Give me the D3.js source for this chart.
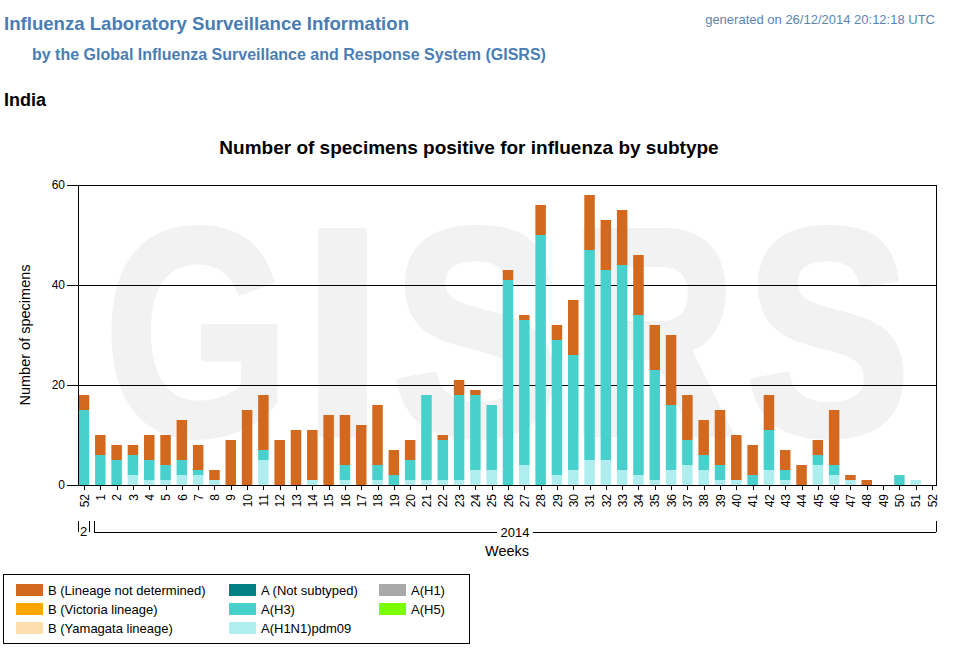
<!DOCTYPE html>
<html>
<head>
<meta charset="utf-8">
<script src="https://cdn.jsdelivr.net/npm/d3@7"></script>
<style>
  html, body { margin: 0; padding: 0; background: #fff; }
  svg { display: block; font-family: "Liberation Sans", Arial, sans-serif; }
</style>
</head>
<body>
<svg id="chart" width="956" height="654"></svg>
<script>
// ---- data ----
const weekLabels = ["52","1","2","3","4","5","6","7","8","9","10","11","12","13","14","15","16","17","18","19","20","21","22","23","24","25","26","27","28","29","30","31","32","33","34","35","36","37","38","39","40","41","42","43","44","45","46","47","48","49","50","51","52"];
const weekYears = [2013].concat(d3.range(52).map(() => 2014));

const seriesNames = ["A(H1)","A(H1N1)pdm09","A(H3)","A(H5)","A (Not subtyped)","B (Yamagata lineage)","B (Victoria lineage)","B (Lineage not determined)"];
const seriesColors = ["#a9a9a9","#afeeee","#48d1cc","#7cfc00","#008080","#ffdead","#ffa500","#d2691e"];

const valsH1 = [0,0,0,0,0,0,0,0,0,0,0,0,0,0,0,0,0,0,0,0,0,0,0,0,0,0,0,0,0,0,0,0,0,0,0,0,0,0,0,0,0,0,0,0,0,0,0,0,0,0,0,0,0];
const valsH1N1pdm09 = [0,0,0,2,1,1,2,2,1,0,0,5,0,0,1,0,1,0,1,0,1,1,1,1,3,3,0,4,0,2,3,5,5,3,2,1,3,4,3,1,1,0,3,1,0,4,2,1,0,0,0,1,0];
const valsH3 = [15,6,5,4,4,3,3,1,0,0,0,2,0,0,0,0,3,0,3,2,4,17,8,17,15,13,41,29,50,27,23,42,38,41,32,22,13,5,3,3,0,2,8,2,0,2,2,0,0,0,2,0,0];
const valsH5 = [0,0,0,0,0,0,0,0,0,0,0,0,0,0,0,0,0,0,0,0,0,0,0,0,0,0,0,0,0,0,0,0,0,0,0,0,0,0,0,0,0,0,0,0,0,0,0,0,0,0,0,0,0];
const valsANotSubtyped = [0,0,0,0,0,0,0,0,0,0,0,0,0,0,0,0,0,0,0,0,0,0,0,0,0,0,0,0,0,0,0,0,0,0,0,0,0,0,0,0,0,0,0,0,0,0,0,0,0,0,0,0,0];
const valsBYamagata = [0,0,0,0,0,0,0,0,0,0,0,0,0,0,0,0,0,0,0,0,0,0,0,0,0,0,0,0,0,0,0,0,0,0,0,0,0,0,0,0,0,0,0,0,0,0,0,0,0,0,0,0,0];
const valsBVictoria = [0,0,0,0,0,0,0,0,0,0,0,0,0,0,0,0,0,0,0,0,0,0,0,0,0,0,0,0,0,0,0,0,0,0,0,0,0,0,0,0,0,0,0,0,0,0,0,0,0,0,0,0,0];
const valsBNotDetermined = [3,4,3,2,5,6,8,5,2,9,15,11,9,11,10,14,10,12,12,5,4,0,1,3,1,0,2,1,6,3,11,11,10,11,12,9,14,9,7,11,9,6,7,4,4,3,11,1,1,0,0,0,0];

const yTicks = [0,20,40,60];

// legend columns as in the reference
const legendCols = [
  ["B (Lineage not determined)","B (Victoria lineage)","B (Yamagata lineage)"],
  ["A (Not subtyped)","A(H3)","A(H1N1)pdm09"],
  ["A(H1)","A(H5)"]
];

// ---- table ----
const seriesValues = [valsH1, valsH1N1pdm09, valsH3, valsH5, valsANotSubtyped, valsBYamagata, valsBVictoria, valsBNotDetermined];
const keys = weekLabels.map((w, i) => weekYears[i] + "-" + w);
const table = keys.map((k, i) => {
  const row = { key: k };
  seriesNames.forEach((s, j) => row[s] = seriesValues[j][i]);
  return row;
});
const colorOf = {};
seriesNames.forEach((s, i) => colorOf[s] = seriesColors[i]);

// ---- drawing ----
const svg = d3.select("#chart");
const titleBlue = "#4a7db4";

svg.append("text").attr("x", 4).attr("y", 30).attr("font-size", 18.6).attr("font-weight", "bold")
  .attr("fill", titleBlue).text("Influenza Laboratory Surveillance Information");
svg.append("text").attr("x", 32).attr("y", 60).attr("font-size", 16).attr("font-weight", "bold")
  .attr("fill", titleBlue).text("by the Global Influenza Surveillance and Response System (GISRS)");
svg.append("text").attr("x", 935).attr("y", 24).attr("font-size", 13).attr("text-anchor", "end")
  .attr("fill", "#5b84b1").text("generated on 26/12/2014 20:12:18 UTC");
svg.append("text").attr("x", 4).attr("y", 106).attr("font-size", 18).attr("font-weight", "bold")
  .attr("fill", "#000").text("India");

svg.append("text").attr("x", 469).attr("y", 154).attr("font-size", 19).attr("font-weight", "bold")
  .attr("text-anchor", "middle").attr("fill", "#000").text("Number of specimens positive for influenza by subtype");

const plotL = 78, plotR = 936, plotT = 185, plotB = 485;
const x = d3.scalePoint().domain(keys).range([84, 932]);
const y = d3.scaleLinear().domain([0, 60]).range([plotB, plotT]);

// watermark (one letter at a time)
const wmLetters = ["G","I","S","R","S"];
const wmCenters = [197, 342.5, 476.5, 653, 828];
const wmScale = [0.81, 1.0, 0.86, 0.78, 0.84];
svg.append("g").selectAll("text").data(wmLetters).join("text")
  .attr("transform", (d, i) => `translate(${wmCenters[i]},434) scale(${wmScale[i]},1)`)
  .attr("text-anchor", "middle").attr("font-size", 295).attr("font-weight", "bold")
  .attr("fill", "#f2f2f2").attr("stroke", "#f2f2f2").attr("stroke-width", 6).attr("stroke-linejoin", "round")
  .text(d => d);

// gridlines
svg.append("g").selectAll("line").data(yTicks.filter(t => t > 0 && t < 60)).join("line")
  .attr("x1", plotL).attr("x2", plotR).attr("y1", d => y(d)).attr("y2", d => y(d))
  .attr("stroke", "#000").attr("stroke-width", 1).attr("shape-rendering", "crispEdges");

// bars
const stack = d3.stack().keys(seriesNames);
const stacked = stack(table);
const barW = 10.5;
svg.append("g").selectAll("g").data(stacked).join("g")
  .attr("fill", d => colorOf[d.key])
  .selectAll("rect").data(d => d.filter(p => p[1] > p[0])).join("rect")
  .attr("x", d => x(d.data.key) - barW / 2)
  .attr("width", barW)
  .attr("y", d => y(d[1]))
  .attr("height", d => y(d[0]) - y(d[1]));

// frame
svg.append("rect").attr("x", plotL).attr("y", plotT).attr("width", plotR - plotL).attr("height", plotB - plotT)
  .attr("fill", "none").attr("stroke", "#000").attr("stroke-width", 1).attr("shape-rendering", "crispEdges");

// y axis
const yAxis = svg.append("g").attr("transform", `translate(${plotL},0)`)
  .call(d3.axisLeft(y).tickValues(yTicks).tickSize(11).tickPadding(2).tickFormat(d3.format("d")));
yAxis.select(".domain").remove();
yAxis.selectAll("text").attr("font-size", 12).attr("fill", "#000").attr("font-family", "Liberation Sans, Arial, sans-serif");
yAxis.selectAll("line").attr("stroke", "#000").attr("shape-rendering", "crispEdges");

svg.append("text").attr("transform", "translate(30,335) rotate(-90)").attr("text-anchor", "middle")
  .attr("font-size", 14.5).attr("fill", "#000").text("Number of specimens");

// x axis
const xAxis = svg.append("g").attr("transform", `translate(0,${plotB})`)
  .call(d3.axisBottom(x).tickSize(5).tickFormat((d, i) => weekLabels[i]));
xAxis.select(".domain").remove();
xAxis.selectAll("line").attr("stroke", "#000").attr("shape-rendering", "crispEdges");
xAxis.selectAll("text").attr("font-size", 12).attr("fill", "#000").attr("font-family", "Liberation Sans, Arial, sans-serif")
  .attr("transform", "rotate(-90)").attr("x", -9).attr("y", 0).attr("dy", "0.35em").style("text-anchor", "end");

// year brackets
const bracketY = 532, bracketTop = 521;
const yr = svg.append("g").attr("stroke", "#000").attr("stroke-width", 1).attr("shape-rendering", "crispEdges");
// 2013 (truncated label)
yr.append("line").attr("x1", 78).attr("x2", 78).attr("y1", bracketTop).attr("y2", bracketY);
yr.append("line").attr("x1", 89).attr("x2", 89).attr("y1", bracketTop).attr("y2", bracketY);
svg.append("text").attr("x", 83.5).attr("y", 536).attr("font-size", 13).attr("text-anchor", "middle").text("2");
// 2014
const x2014a = 94, x2014b = 936;
yr.append("line").attr("x1", x2014a).attr("x2", x2014a).attr("y1", bracketTop).attr("y2", bracketY);
yr.append("line").attr("x1", x2014b).attr("x2", x2014b).attr("y1", bracketTop).attr("y2", bracketY);
yr.append("line").attr("x1", x2014a).attr("x2", 497).attr("y1", bracketY).attr("y2", bracketY);
yr.append("line").attr("x1", 533).attr("x2", x2014b).attr("y1", bracketY).attr("y2", bracketY);
svg.append("text").attr("x", 515).attr("y", 537).attr("font-size", 13).attr("text-anchor", "middle").text("2014");

svg.append("text").attr("x", 507).attr("y", 556).attr("font-size", 14.5).attr("text-anchor", "middle").text("Weeks");

// legend
svg.append("rect").attr("x", 3.5).attr("y", 574.5).attr("width", 466).attr("height", 69)
  .attr("fill", "#fff").attr("stroke", "#000").attr("stroke-width", 1);
const colX = [16, 229, 379];
const rowY = [584, 603, 622];
const legendItems = [];
legendCols.forEach((col, c) => col.forEach((name, r) => legendItems.push({ name, c, r })));
const lg = svg.append("g").selectAll("g").data(legendItems).join("g")
  .attr("transform", d => `translate(${colX[d.c]},${rowY[d.r]})`);
lg.append("rect").attr("width", 27).attr("height", 12).attr("fill", d => colorOf[d.name]);
lg.append("text").attr("x", 32).attr("y", 10.5).attr("font-size", 13).attr("fill", "#000").text(d => d.name);
</script>
</body>
</html>
